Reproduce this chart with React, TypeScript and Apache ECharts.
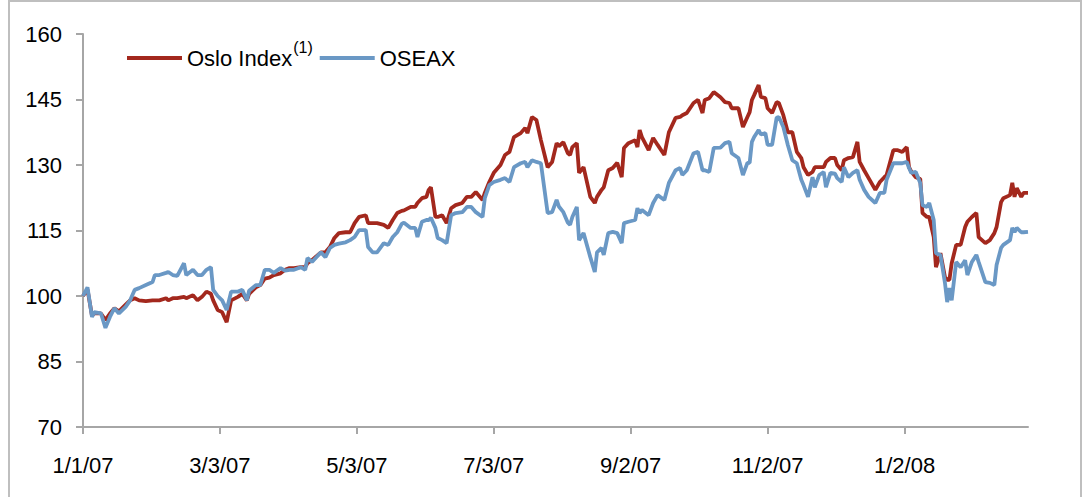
import React, { useEffect, useRef } from "react";
import * as echarts from "echarts";

// x positions: days elapsed since 1/1/07
const days = [
  0, 2, 4, 5, 8, 10, 12, 14, 16, 19, 21, 23, 25, 28, 31, 32, 34, 37, 38, 40,
  42, 45, 46, 49, 51, 53, 55, 57, 58, 60, 62, 64, 66, 69, 71, 73, 74, 77, 79, 81,
  83, 85, 88, 90, 92, 94, 97, 99, 100, 102, 106, 108, 110, 112, 114, 117, 119, 121, 123, 126,
  127, 129, 131, 134, 136, 138, 140, 142, 143, 146, 148, 149, 151, 153, 154, 155, 157, 158, 160, 162,
  164, 166, 169, 171, 173, 175, 178, 179, 181, 183, 186, 188, 190, 192, 195, 197, 198, 200, 202, 204,
  207, 209, 211, 212, 214, 216, 217, 218, 220, 221, 223, 226, 228, 229, 231, 232, 234, 236, 238, 240,
  241, 243, 246, 247, 248, 249, 252, 254, 256, 259, 261, 264, 266, 267, 269, 272, 274, 276, 277, 279,
  281, 284, 286, 288, 289, 292, 294, 296, 297, 298, 299, 301, 302, 304, 305, 307, 309, 310, 312, 314,
  316, 318, 320, 321, 323, 325, 326, 328, 330, 331, 333, 335, 336, 338, 339, 341, 343, 345, 346, 348,
  350, 353, 355, 357, 358, 361, 363, 365, 367, 368, 369, 371, 373, 374, 376, 377, 379, 380, 382, 384,
  385, 386, 387, 389, 391, 393, 394, 396, 398, 399, 402, 404, 406, 407, 409, 410, 413, 414, 415, 416,
  418, 419, 421,
];

const osloIndex = [
  100, 101.5, 95.5, 96, 96, 94.5, 96, 97.2, 96.5, 98, 99, 99.5, 99, 98.8, 99, 99, 99, 99.5, 99, 99.5,
  99.5, 99.8, 99.5, 100.2, 99, 99.8, 101, 100.5, 99, 96.8, 96.3, 94, 99, 99.8, 100.5, 99, 100.5, 102, 102.5, 104,
  104.2, 104.8, 105.2, 106, 106.4, 106.4, 106.6, 106.6, 107.5, 108.2, 110, 110, 111.2, 113.3, 114.4, 114.6, 114.6, 116.7, 118.1, 118.5,
  116.7, 116.7, 116.7, 116.3, 115.6, 117.4, 119, 119.5, 119.6, 120.4, 120.4, 121.3, 122.4, 122.7, 124.3, 124.9, 118.1, 118.1, 118.5, 116.7,
  120.1, 120.8, 121.3, 122.7, 122.7, 123.8, 122, 123.6, 126.1, 128.2, 130, 132.3, 133, 136.4, 137.3, 138.5, 137.3, 141, 140.3, 135.7,
  129.5, 130.7, 135, 134.3, 135.2, 132.7, 132.3, 134.1, 135, 128.2, 129.5, 122.7, 121.3, 122.7, 124.3, 124.9, 128.8, 129.3, 130.5, 127.2,
  133.9, 135, 135.7, 134.1, 138, 136.4, 133.4, 136.2, 134.6, 132.3, 137.5, 140.8, 141, 141.4, 141.9, 144.2, 144.9, 141.9, 144.9, 145.3,
  146.7, 145.5, 144.4, 144.2, 143, 143, 138.7, 141, 142.1, 144.9, 146, 148.3, 145.6, 145.3, 143, 141.9, 144.4, 144.2, 141.4, 137.5,
  137.5, 133, 131.6, 129.5, 127.7, 128.4, 129.5, 129.5, 129.5, 130.7, 131.6, 131.6, 130, 128.8, 131.1, 131.6, 131.8, 135.3, 130.7, 128.8,
  127, 124.3, 126.1, 127.2, 127.7, 133.4, 133.4, 133, 134.1, 129.5, 128.5, 127.2, 126.8, 119, 118.1, 118.1, 113.5, 106.6, 109.8, 104.3,
  103.7, 103.7, 107.5, 111.7, 111.7, 115.8, 117, 118.1, 119, 113.5, 112.1, 112.8, 114.4, 115.8, 121.5, 122.4, 123.1, 125.9, 122.7, 124.7,
  122.7, 123.6, 123.6,
];

const oseax = [
  100, 102, 95.2, 96.3, 96, 92.7, 95.2, 97.2, 96, 97.5, 99, 101.4, 101.8, 102.5, 103.2, 104.8, 104.8, 105.3, 105.5, 104.8,
  104.6, 107.5, 104.8, 106, 104.8, 104.8, 106, 106.6, 101.4, 100, 99, 96.8, 101, 101, 101.4, 99, 101.2, 102.5, 102.5, 106,
  106, 105.3, 106.4, 105.8, 106, 106, 106.6, 106, 108.7, 107.8, 110, 108.9, 111, 111.7, 112, 112.3, 112.8, 113.5, 115.1, 115.1,
  111.2, 110, 110, 112.1, 111.7, 113.5, 114.6, 116.5, 116.8, 115.6, 115.6, 113.5, 117, 117.4, 117.4, 117.9, 115.6, 113.3, 112.8, 112.1,
  118.5, 119, 119.2, 120.4, 120.4, 119.2, 118.1, 122.4, 125.4, 126.1, 126.6, 127, 126.1, 129.5, 130.4, 130.7, 129.5, 131.1, 130.7, 130.4,
  119, 119.2, 122, 120.5, 119.2, 116.8, 116.3, 118.1, 120.4, 112.8, 114.4, 108.9, 105.5, 110, 111, 109.4, 114.4, 114.7, 114.4, 112.1,
  116.7, 117, 117.4, 120.1, 119, 119.7, 118.5, 121.3, 123.1, 122, 125.9, 128.8, 129.3, 127.7, 128.8, 132.7, 133, 128.8, 128.8, 128.4,
  133.9, 134, 135, 135.3, 132.7, 131.6, 127.7, 130.5, 130.5, 135.3, 136.4, 138, 137, 137.3, 134.6, 134.6, 140.8, 141, 138.7, 134.6,
  131.1, 130.4, 126.6, 125.4, 122.7, 127.2, 124.9, 127.7, 128.4, 124.9, 128.2, 128, 127, 126.1, 129.5, 127.2, 128.2, 128.8, 126.6, 124.3,
  122.7, 121.3, 123.6, 123.6, 126.6, 130.4, 130.4, 130.4, 130.7, 129.3, 128.2, 128.4, 125.9, 120.8, 120.4, 121.3, 117.4, 109.8, 109.4, 103,
  98.6, 101.8, 99, 107.8, 106.6, 108.2, 104.8, 107.8, 109.4, 107.8, 103.2, 103, 102.5, 107.1, 111, 111.7, 112.8, 115.6, 114.6, 115.6,
  114.6, 114.6, 114.7,
];

const seriesNames = ["Oslo Index", "OSEAX"];
const seriesColors = ["#a3281d", "#6a98c5"];
const tickDays = [0, 61, 122, 183, 244, 305, 366];
const tickLabels = ["1/1/07", "3/3/07", "5/3/07", "7/3/07", "9/2/07", "11/2/07", "1/2/08"];
const yMin = 70;
const yMax = 160;
const yStep = 15;
const xMax = 421;

const FONT = "'Liberation Sans', Arial, sans-serif";
const FS = 22;

export default function App() {
  const ref = useRef<HTMLDivElement>(null);

  useEffect(() => {
    if (!ref.current) return;
    const chart = echarts.init(ref.current, undefined, { renderer: "svg" });
    const axisColor = "#a6a6a6";
    const option: any = {
      animation: false,
      backgroundColor: "#ffffff",
      grid: { left: 83, right: 54, top: 34, bottom: 70, containLabel: false },
      legend: {
        left: 122,
        top: 34,
        itemWidth: 55,
        itemHeight: 4,
        itemGap: 7,
        icon: "rect",
        data: seriesNames,
        textStyle: {
          fontFamily: FONT,
          fontSize: FS,
          color: "#000",
          rich: {
            a: { fontFamily: FONT, fontSize: FS, color: "#000" },
            s: { fontFamily: FONT, fontSize: 16, color: "#000", padding: [0, 0, 22, 1] },
          },
        },
        formatter: (name: string) =>
          name === seriesNames[0] ? `{a|${name}}{s|(1)}` : `{a|${name}}`,
      },
      graphic: [
        {
          type: "rect",
          shape: { x: 9, y: 1, width: 1072, height: 520 },
          style: { fill: "none", stroke: "#bfbfbf", lineWidth: 2 },
          silent: true,
        },
      ],
      xAxis: {
        type: "value",
        min: 0,
        max: xMax,
        splitLine: { show: false },
        axisLine: { show: true, lineStyle: { color: axisColor, width: 2 } },
        axisTick: {
          show: true,
          length: 7,
          customValues: tickDays,
          lineStyle: { color: axisColor, width: 2 },
        },
        axisLabel: {
          customValues: tickDays,
          formatter: (v: number) => {
            const i = tickDays.indexOf(v);
            return i >= 0 ? tickLabels[i] : "";
          },
          fontFamily: FONT,
          fontSize: FS,
          color: "#000",
          margin: 27,
        },
      },
      yAxis: {
        type: "value",
        min: yMin,
        max: yMax,
        interval: yStep,
        splitLine: { show: false },
        axisLine: { show: true, lineStyle: { color: axisColor, width: 2 } },
        axisTick: { show: true, length: 7, lineStyle: { color: axisColor, width: 2 } },
        axisLabel: {
          fontFamily: FONT,
          fontSize: FS,
          color: "#000",
          margin: 21,
        },
      },
      series: [
        {
          name: seriesNames[0],
          type: "line",
          symbol: "none",
          showSymbol: false,
          color: seriesColors[0],
          lineStyle: { width: 3.8, color: seriesColors[0] },
          data: days.map((d, i) => [d, osloIndex[i]]),
        },
        {
          name: seriesNames[1],
          type: "line",
          symbol: "none",
          showSymbol: false,
          color: seriesColors[1],
          lineStyle: { width: 3.8, color: seriesColors[1] },
          data: days.map((d, i) => [d, oseax[i]]),
        },
      ],
    };
    chart.setOption(option);
    return () => chart.dispose();
  }, []);

  return (
    <div
      ref={ref}
      style={{ position: "absolute", left: 0, top: 0, width: 1082, height: 497 }}
    />
  );
}
